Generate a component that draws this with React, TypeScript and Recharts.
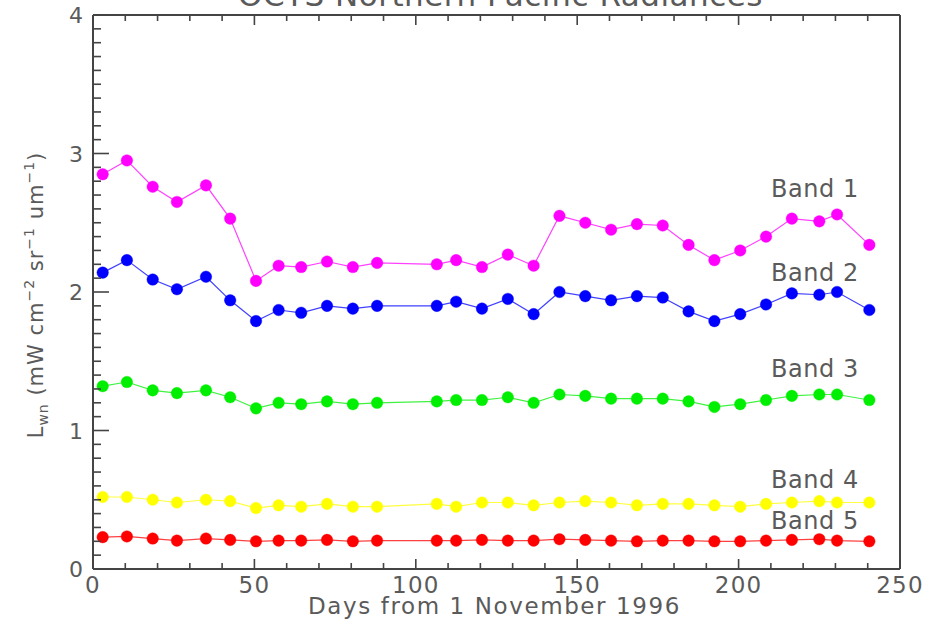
import React from 'react';
import { LineChart, Line, XAxis, YAxis, ReferenceDot } from 'recharts';

const days = [3, 10.5, 18.5, 26, 35, 42.5, 50.5, 57.5, 64.5, 72.5, 80.5, 88, 106.5, 112.5, 120.5, 128.5, 136.5, 144.5, 152.5, 160.5, 168.5, 176.5, 184.5, 192.5, 200.5, 208.5, 216.5, 225, 230.5, 240.5];
const band1 = [2.85, 2.95, 2.76, 2.65, 2.77, 2.53, 2.08, 2.19, 2.18, 2.22, 2.18, 2.21, 2.2, 2.23, 2.18, 2.27, 2.19, 2.55, 2.5, 2.45, 2.49, 2.48, 2.34, 2.23, 2.3, 2.4, 2.53, 2.51, 2.56, 2.34];
const band2 = [2.14, 2.23, 2.09, 2.02, 2.11, 1.94, 1.79, 1.87, 1.85, 1.9, 1.88, 1.9, 1.9, 1.93, 1.88, 1.95, 1.84, 2.0, 1.97, 1.94, 1.97, 1.96, 1.86, 1.79, 1.84, 1.91, 1.99, 1.98, 2.0, 1.87];
const band3 = [1.32, 1.35, 1.29, 1.27, 1.29, 1.24, 1.16, 1.2, 1.19, 1.21, 1.19, 1.2, 1.21, 1.22, 1.22, 1.24, 1.2, 1.26, 1.25, 1.23, 1.23, 1.23, 1.21, 1.17, 1.19, 1.22, 1.25, 1.26, 1.26, 1.22];
const band4 = [0.52, 0.52, 0.5, 0.48, 0.5, 0.49, 0.44, 0.46, 0.45, 0.47, 0.45, 0.45, 0.47, 0.45, 0.48, 0.48, 0.46, 0.48, 0.49, 0.48, 0.46, 0.47, 0.47, 0.46, 0.45, 0.47, 0.48, 0.49, 0.48, 0.48];
const band5 = [0.23, 0.235, 0.22, 0.205, 0.22, 0.21, 0.2, 0.205, 0.205, 0.21, 0.2, 0.205, 0.205, 0.205, 0.21, 0.205, 0.205, 0.215, 0.21, 0.205, 0.2, 0.205, 0.205, 0.2, 0.2, 0.205, 0.21, 0.215, 0.205, 0.2];

const seriesNames = ['Band 1', 'Band 2', 'Band 3', 'Band 4', 'Band 5'];
const seriesKeys = ['b1', 'b2', 'b3', 'b4', 'b5'];
const seriesColors = ['#ff00ff', '#0000ff', '#00ee00', '#ffff00', '#ff0000'];
const labelDay = 210;
const labelValues = [2.686, 2.08, 1.388, 0.587, 0.291];
const title = 'OCTS Northern Pacific Radiances';

const xMajorTicks = [0, 50, 100, 150, 200, 250];
const yMajorTicks = [0, 1, 2, 3, 4];
const xTicks: number[] = [];
for (let i = 0; i <= 25; i++) xTicks.push(i * 10);
const yTicks: number[] = [];
for (let i = 0; i <= 40; i++) yTicks.push(i / 10);

const data = days.map((d, i) => ({
  day: d,
  b1: band1[i],
  b2: band2[i],
  b3: band3[i],
  b4: band4[i],
  b5: band5[i],
}));

const W = 926;
const H = 621;
const M = { top: 14, right: 25, bottom: 0, left: 0 };
const XH = 52;
const YW = 93;
const PL = 93;
const PR = 900;
const PT = 15;
const PB = 569;

const AX = '#444444';
const TXT = '#5a5a5a';
const FONT = '"DejaVu Sans", sans-serif';

const isMajorX = (v: number) => xMajorTicks.some((t) => Math.abs(t - v) < 1e-6);
const isMajorY = (v: number) => yMajorTicks.some((t) => Math.abs(t - v) < 1e-6);

const BottomTick = (p: any) => {
  const { x, payload } = p;
  const major = isMajorX(payload.value);
  return (
    <g>
      <path d={`M${x},${PB}V${PB - (major ? 10 : 6)}`} stroke={AX} strokeWidth={1.6} fill="none" />
      {major && (
        <text x={x} y={PB + 24} textAnchor="middle" fontSize={23} fill={TXT} fontFamily={FONT} letterSpacing={1.2}>
          {payload.value}
        </text>
      )}
    </g>
  );
};

const TopTick = (p: any) => {
  const { x, payload } = p;
  const major = isMajorX(payload.value);
  return <path d={`M${x},${PT}V${PT + (major ? 10 : 6)}`} stroke={AX} strokeWidth={1.6} fill="none" />;
};

const LeftTick = (p: any) => {
  const { y, payload } = p;
  const major = isMajorY(payload.value);
  return (
    <g>
      <path d={`M${PL},${y}H${PL + (major ? 16 : 8)}`} stroke={AX} strokeWidth={1.6} fill="none" />
      {major && (
        <text x={PL - 10} y={y + 8} textAnchor="end" fontSize={22} fill={TXT} fontFamily={FONT}>
          {Math.round(payload.value)}
        </text>
      )}
    </g>
  );
};

const RightTick = (p: any) => {
  const { y, payload } = p;
  const major = isMajorY(payload.value);
  return <path d={`M${PR},${y}H${PR - (major ? 16 : 8)}`} stroke={AX} strokeWidth={1.6} fill="none" />;
};

const XLabel = () => (
  <text x={(PL + PR) / 2 - 2} y={PB + 45} textAnchor="middle" fontSize={23} fill={TXT} fontFamily={FONT} letterSpacing={1.6}>
    Days from 1 November 1996
  </text>
);

const YLabel = () => {
  const cx = 43;
  const cy = 295;
  const sub = 14;
  return (
    <text transform={`rotate(-90, ${cx}, ${cy})`} x={cx} y={cy} textAnchor="middle" fontSize={21} fill={TXT} fontFamily={FONT} letterSpacing={1}>
      L
      <tspan dy={5} fontSize={sub}>wn</tspan>
      <tspan dy={-5}> (mW cm</tspan>
      <tspan dy={-9} fontSize={sub}>−2</tspan>
      <tspan dy={9}> sr</tspan>
      <tspan dy={-9} fontSize={sub}>−1</tspan>
      <tspan dy={9}> um</tspan>
      <tspan dy={-9} fontSize={sub}>−1</tspan>
      <tspan dy={9}>)</tspan>
    </text>
  );
};

export default function App() {
  return (
    <div style={{ position: 'absolute', left: 0, top: 0, width: W, height: H, background: '#fff' }}>
      <LineChart width={W} height={H} data={data} margin={M}>
        <XAxis
          xAxisId="b"
          dataKey="day"
          type="number"
          domain={[0, 250]}
          ticks={xTicks}
          interval={0}
          height={XH}
          tickSize={0}
          tickMargin={0}
          tickLine={false}
          axisLine={{ stroke: AX, strokeWidth: 2 }}
          tick={BottomTick}
          label={<XLabel />}
        />
        <XAxis
          xAxisId="t"
          orientation="top"
          dataKey="day"
          type="number"
          domain={[0, 250]}
          ticks={xTicks}
          interval={0}
          height={1}
          tickSize={0}
          tickMargin={0}
          tickLine={false}
          axisLine={{ stroke: AX, strokeWidth: 2 }}
          tick={TopTick}
        />
        <YAxis
          yAxisId="l"
          type="number"
          domain={[0, 4]}
          ticks={yTicks}
          interval={0}
          width={YW}
          tickSize={0}
          tickMargin={0}
          tickLine={false}
          axisLine={{ stroke: AX, strokeWidth: 2 }}
          tick={LeftTick}
          label={<YLabel />}
        />
        <YAxis
          yAxisId="r"
          orientation="right"
          type="number"
          domain={[0, 4]}
          ticks={yTicks}
          interval={0}
          width={1}
          tickSize={0}
          tickMargin={0}
          tickLine={false}
          axisLine={{ stroke: AX, strokeWidth: 2 }}
          tick={RightTick}
        />
        {seriesKeys.map((k, i) => (
          <Line
            key={k}
            xAxisId="b"
            yAxisId="l"
            dataKey={k}
            stroke={seriesColors[i]}
            strokeWidth={1.2}
            strokeOpacity={0.75}
            dot={{ r: 5.8, fill: seriesColors[i], stroke: seriesColors[i], strokeWidth: 0.5 }}
            activeDot={false}
            isAnimationActive={false}
          />
        ))}
        {seriesNames.map((n, i) => (
          <ReferenceDot
            key={n}
            xAxisId="b"
            yAxisId="l"
            x={labelDay}
            y={labelValues[i]}
            r={0}
            shape={(p: any) => (
              <text x={p.cx} y={p.cy} fontSize={24} fill={TXT} fontFamily={FONT} letterSpacing={0.6}>
                {n}
              </text>
            )}
          />
        ))}
      </LineChart>
      <svg width={W} height={30} style={{ position: 'absolute', left: 0, top: 0, pointerEvents: 'none' }}>
        <text x={(PL + PR) / 2 + 4} y={6} textAnchor="middle" fontSize={31} fill={TXT} fontFamily={FONT} letterSpacing={0.5}>
          {title}
        </text>
      </svg>
    </div>
  );
}
